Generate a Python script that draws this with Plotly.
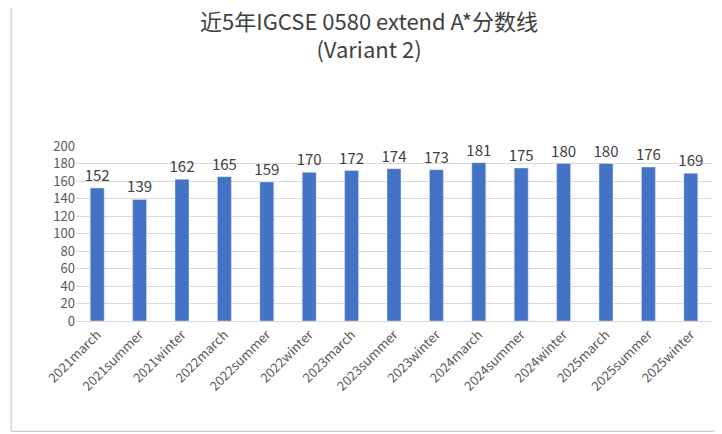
import plotly.graph_objects as go

sessions = ['2021march', '2021summer', '2021winter', '2022march', '2022summer', '2022winter',
            '2023march', '2023summer', '2023winter', '2024march', '2024summer', '2024winter',
            '2025march', '2025summer', '2025winter']
scores = [152, 139, 162, 165, 159, 170, 172, 174, 173, 181, 175, 180, 180, 176, 169]

FONT = "Noto Sans CJK SC"

fig = go.Figure()
fig.add_trace(go.Bar(x=sessions, y=scores, marker_color='#4472C4', width=0.33,
                     text=scores, textposition='outside', cliponaxis=False, constraintext='none',
                     textfont=dict(size=15, color='#404040')))

fig.update_layout(
    width=722, height=434,
    title=dict(text='近5年IGCSE 0580 extend A*分数线<br>(Variant 2)', x=0.5, xanchor='center',
               y=0.95, yanchor='top', font=dict(family=FONT, size=22, color='#404040')),
    margin=dict(l=68, r=18, t=138, b=121),
    plot_bgcolor='white', paper_bgcolor='white',
    font=dict(family=FONT, size=13, color='#595959'),
    showlegend=False, bargap=0.6,
    shapes=[dict(type='rect', xref='paper', yref='paper', x0=-0.102, x1=1.022, y0=-0.63, y1=1.8,
                 line=dict(color='#BFBFBF', width=1))],
)
fig.update_xaxes(tickangle=-45, showline=True, linecolor='#D9D9D9', ticks='')
fig.update_yaxes(range=[0, 200], dtick=20, gridcolor='#D9D9D9', zeroline=False, showline=False)

fig.write_html("out.html")
